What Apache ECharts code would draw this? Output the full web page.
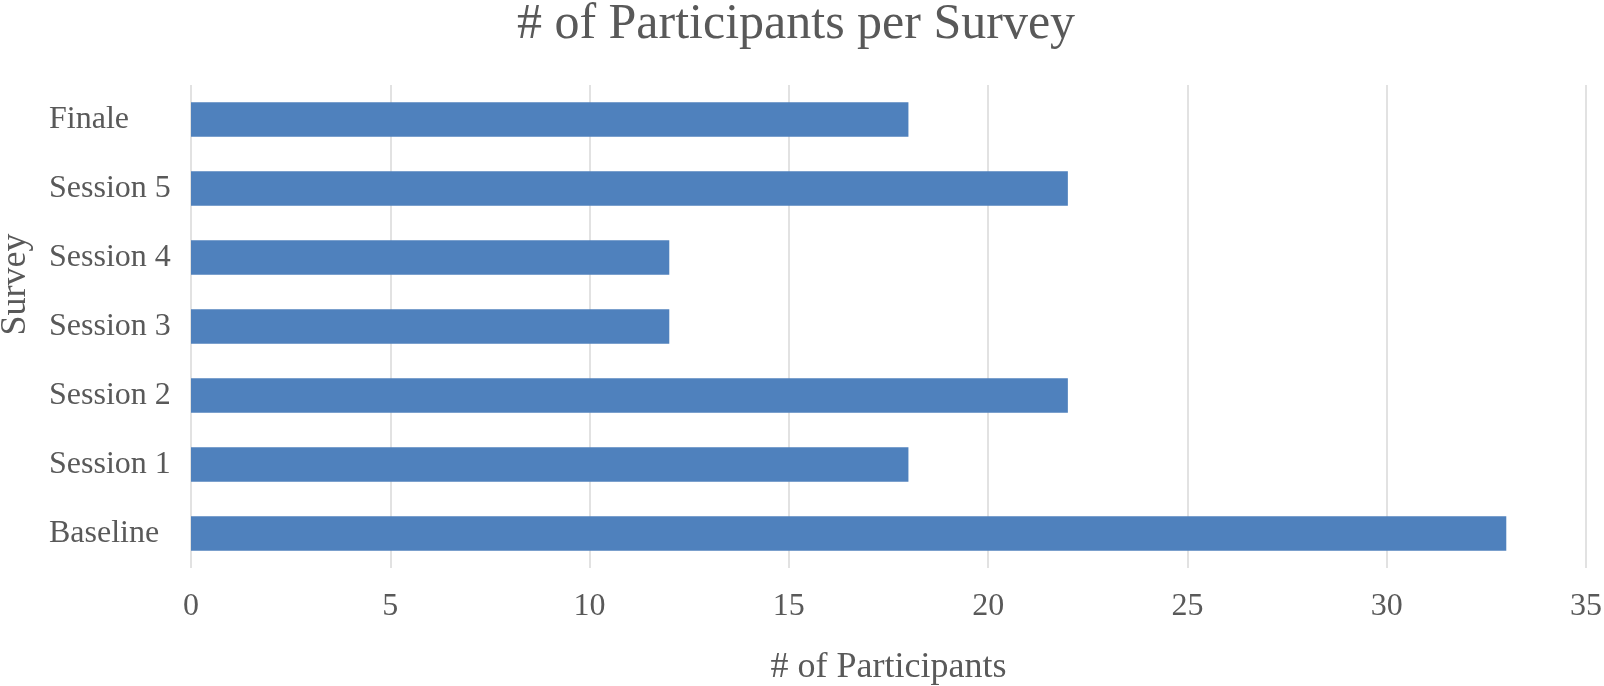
<!DOCTYPE html>
<html>
<head>
<meta charset="utf-8">
<script src="https://cdn.jsdelivr.net/npm/echarts@6/dist/echarts.min.js"></script>
<style>
  html, body { margin: 0; padding: 0; background: #fff; }
  #chart { width: 1604px; height: 686px; }
</style>
</head>
<body>
<div id="chart"></div>
<script>
// survey names, bottom to top
const surveys = ['Baseline', 'Session 1', 'Session 2', 'Session 3', 'Session 4', 'Session 5', 'Finale']
// number of participants per survey
const participants = [33, 18, 22, 12, 12, 22, 18]
const xTicks = [0, 5, 10, 15, 20, 25, 30, 35]

const textColor = '#595959'
const fontFamily = '"Liberation Serif", "DejaVu Serif", serif'

const chart = echarts.init(document.getElementById('chart'))

const option = {
  animation: false,
  title: {
    text: '# of Participants per Survey',
    left: 796,
    textAlign: 'center',
    top: 0,
    padding: 0,
    textStyle: {
      fontFamily,
      fontSize: 50,
      fontWeight: 'normal',
      color: textColor,
    },
  },
  grid: {
    left: 191,
    right: 18,
    top: 85,
    bottom: 118,
    outerBoundsMode: 'none',
  },
  xAxis: {
    type: 'value',
    min: xTicks[0],
    max: xTicks[xTicks.length - 1],
    interval: 5,
    name: '# of Participants',
    nameLocation: 'middle',
    nameGap: 82,
    nameTextStyle: {
      fontFamily,
      fontSize: 36,
      color: textColor,
    },
    axisLine: { show: false },
    axisTick: { show: false },
    axisLabel: {
      margin: 23,
      fontFamily,
      fontSize: 32,
      color: textColor,
    },
    splitLine: {
      show: true,
      lineStyle: { color: '#d9d9d9', width: 1.5 },
    },
  },
  yAxis: {
    type: 'category',
    data: surveys,
    name: 'Survey',
    nameLocation: 'middle',
    nameGap: 157,
    nameTextStyle: {
      fontFamily,
      fontSize: 36,
      color: textColor,
      padding: [0, 0, 0, 84],
    },
    axisLine: { show: false },
    axisTick: { show: false },
    axisLabel: {
      margin: 142,
      align: 'left',
      fontFamily,
      fontSize: 32,
      color: textColor,
    },
  },
  series: [
    {
      type: 'bar',
      data: participants,
      barCategoryGap: '50%',
      itemStyle: { color: '#4f81bd' },
    },
  ],
}

chart.setOption(option)
</script>
</body>
</html>
